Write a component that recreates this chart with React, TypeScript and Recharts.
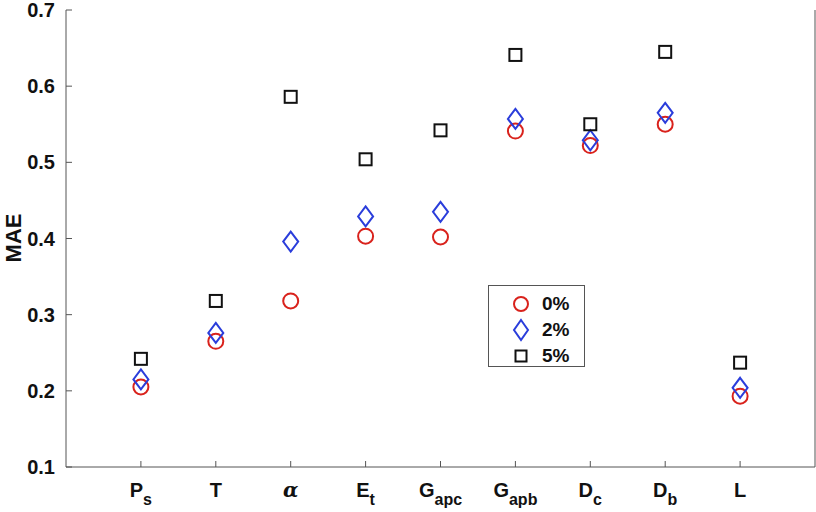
import { ScatterChart, Scatter, XAxis, YAxis, Legend, Label } from "recharts";

// category labels (main letter + subscript)
const labelMain = ["P", "T", "α", "E", "G", "G", "D", "D", "L"];
const labelSub = ["s", "", "", "t", "apc", "apb", "c", "b", ""];

// MAE per noise level
const mae0 = [0.205, 0.265, 0.318, 0.403, 0.402, 0.541, 0.522, 0.550, 0.193];
const mae2 = [0.215, 0.276, 0.396, 0.429, 0.435, 0.557, 0.529, 0.565, 0.204];
const mae5 = [0.242, 0.318, 0.586, 0.504, 0.542, 0.641, 0.550, 0.645, 0.237];

const seriesNames = ["0%", "2%", "5%"];
const yTicks = [0.1, 0.2, 0.3, 0.4, 0.5, 0.6, 0.7];
const xTicks = [1, 2, 3, 4, 5, 6, 7, 8, 9];

const FONT = "'Liberation Sans', Arial, sans-serif";
const AXIS = "#555";
const RED = "#d9221c";
const BLUE = "#2a3ddb";
const BLACK = "#111";

const toPoints = (vals: number[]) => vals.map((v, i) => ({ x: i + 1, y: v }));

function CircleMark(props: any) {
  const { cx, cy } = props;
  return <circle cx={cx} cy={cy} r={7.5} fill="none" stroke={RED} strokeWidth={2} />;
}

function DiamondMark(props: any) {
  const { cx, cy } = props;
  const w = 7.5;
  const h = 10;
  return (
    <polygon
      points={`${cx},${cy - h} ${cx + w},${cy} ${cx},${cy + h} ${cx - w},${cy}`}
      fill="none"
      stroke={BLUE}
      strokeWidth={2}
    />
  );
}

function SquareMark(props: any) {
  const { cx, cy } = props;
  const s = 6;
  return <rect x={cx - s} y={cy - s} width={2 * s} height={2 * s} fill="none" stroke={BLACK} strokeWidth={2} />;
}

function BottomTick(props: any) {
  const { x, y, payload } = props;
  const i = payload.value - 1;
  const main = labelMain[i];
  const sub = labelSub[i];
  const isGreek = main === "α";
  return (
    <g>
      <line x1={x} y1={y} x2={x} y2={y - 6} stroke={AXIS} strokeWidth={1} />
      <text x={x} y={y + 30} textAnchor="middle" fontFamily={isGreek ? "'DejaVu Serif', serif" : FONT} fontWeight="bold" fontStyle={isGreek ? "italic" : "normal"} fontSize={20} fill="#111">
        <tspan>{main}</tspan>
        {sub && (
          <tspan fontSize={16} dy={8}>
            {sub}
          </tspan>
        )}
      </text>
    </g>
  );
}

function TopTick(props: any) {
  const { x, y } = props;
  return <line x1={x} y1={y} x2={x} y2={y + 6} stroke={AXIS} strokeWidth={1} />;
}

function LeftTick(props: any) {
  const { x, y, payload } = props;
  return (
    <g>
      <line x1={x} y1={y} x2={x + 6} y2={y} stroke={AXIS} strokeWidth={1} />
      <text x={x - 11} y={y + 7} textAnchor="end" fontFamily={FONT} fontWeight="bold" fontSize={20} fill="#111">
        {payload.value.toFixed(1)}
      </text>
    </g>
  );
}

function RightTick(props: any) {
  const { x, y } = props;
  return <line x1={x} y1={y} x2={x - 6} y2={y} stroke={AXIS} strokeWidth={1} />;
}

function LegendBox() {
  const marks = [
    <circle cx={12} cy={12} r={7} fill="none" stroke={RED} strokeWidth={2} />,
    <polygon points="12,2 19,12 12,22 5,12" fill="none" stroke={BLUE} strokeWidth={2} />,
    <rect x={6.5} y={6.5} width={11} height={11} fill="none" stroke={BLACK} strokeWidth={2} />,
  ];
  return (
    <div
      style={{
        border: `1px solid ${AXIS}`,
        background: "#fff",
        width: 97,
        height: 82,
        boxSizing: "border-box",
        paddingTop: 5,
        fontFamily: FONT,
        fontWeight: "bold",
        fontSize: 19,
        color: "#111",
      }}
    >
      {seriesNames.map((n, i) => (
        <div key={n} style={{ display: "flex", alignItems: "center", height: 26 }}>
          <svg width={24} height={24} style={{ marginLeft: 20 }}>
            {marks[i]}
          </svg>
          <span style={{ marginLeft: 9 }}>{n}</span>
        </div>
      ))}
    </div>
  );
}

export default function App() {
  return (
    <div style={{ position: "absolute", left: 0, top: 0, width: 816, height: 512, background: "#fff" }}>
      <ScatterChart width={816} height={512} margin={{ top: 10, right: 0, bottom: 0, left: 0 }}>
        <XAxis
          type="number"
          dataKey="x"
          domain={[0, 10]}
          ticks={xTicks}
          height={45}
          tickSize={0}
          tickMargin={0}
          stroke={AXIS}
          tick={<BottomTick />}
        />
        <XAxis
          xAxisId="top"
          orientation="top"
          type="number"
          dataKey="x"
          domain={[0, 10]}
          ticks={xTicks}
          height={0}
          tickSize={0}
          tickMargin={0}
          stroke={AXIS}
          tick={<TopTick />}
        />
        <YAxis
          type="number"
          dataKey="y"
          domain={[0.1, 0.7]}
          ticks={yTicks}
          width={66}
          tickSize={0}
          tickMargin={0}
          stroke={AXIS}
          tick={<LeftTick />}
        >
          <Label
            content={() => (
              <text x={21} y={238} transform="rotate(-90 21 238)" textAnchor="middle" fontFamily={FONT} fontWeight="bold" fontSize={22} fill="#111">
                MAE
              </text>
            )}
          />
        </YAxis>
        <YAxis
          yAxisId="right"
          orientation="right"
          type="number"
          dataKey="y"
          domain={[0.1, 0.7]}
          ticks={yTicks}
          width={1}
          tickSize={0}
          tickMargin={0}
          stroke={AXIS}
          tick={<RightTick />}
        />
        <Legend
          layout="horizontal"
          verticalAlign="middle"
          align="center"
          content={<LegendBox />}
          wrapperStyle={{ position: "absolute", left: 488, top: 285, width: 97, height: 82 }}
        />
        <Scatter name="0%" data={toPoints(mae0)} shape={<CircleMark />} isAnimationActive={false} />
        <Scatter name="2%" data={toPoints(mae2)} shape={<DiamondMark />} isAnimationActive={false} />
        <Scatter name="5%" data={toPoints(mae5)} shape={<SquareMark />} isAnimationActive={false} />
      </ScatterChart>
    </div>
  );
}
